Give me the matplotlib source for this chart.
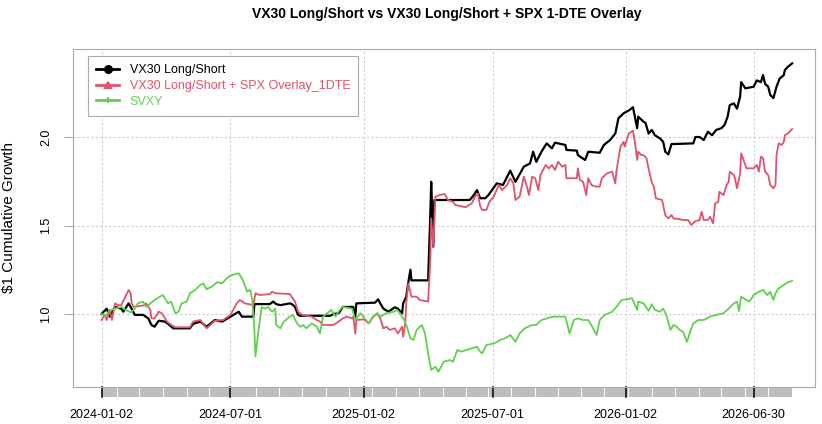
import matplotlib
matplotlib.use("Agg")
import matplotlib.pyplot as plt
from matplotlib.lines import Line2D
from matplotlib.patches import Rectangle
from matplotlib.transforms import blended_transform_factory

plt.rcParams['font.family'] = ['Liberation Sans', 'DejaVu Sans']

# trading-day index (0 = 2024-01-02) and cumulative growth of $1
ls_idx = [0, 5, 8, 13, 19, 21, 26, 29, 32, 40, 45, 48, 51, 55, 61, 64, 69, 85, 88, 95,
          101, 109, 116, 124, 132, 135, 146, 147, 162, 165, 168, 172, 181, 183, 186, 189,
          191, 220, 223, 228, 232, 242, 244, 245, 263, 266, 268, 271, 276, 282, 285, 289,
          290, 293, 295, 297, 298, 314, 316, 317, 319, 320, 354, 358, 361, 364, 369, 372,
          380, 386, 393, 398, 406, 412, 415, 418, 423, 428, 433, 436, 446, 447, 457, 458,
          465, 468, 479, 483, 489, 494, 497, 502, 507, 511, 515, 516, 521, 523, 526, 529,
          532, 537, 540, 542, 545, 548, 569, 571, 575, 579, 583, 587, 591, 596, 599, 602,
          604, 608, 611, 614, 615, 619, 627, 630, 634, 636, 638, 641, 643, 646, 649, 652,
          656, 657, 660, 664]
ls_val = [1.00, 1.03, 0.985, 1.04, 1.03, 1.013, 1.06, 1.03, 0.995, 0.995, 0.975, 0.938,
          0.928, 0.962, 0.957, 0.944, 0.919, 0.919, 0.944, 0.957, 0.928, 0.966, 0.957, 0.985,
          1.013, 0.985, 0.985, 1.056, 1.056, 1.07, 1.056, 1.05, 1.06, 1.056, 1.04, 0.995,
          0.99, 0.99, 1.0, 1.004, 1.04, 1.04, 0.985, 1.06, 1.064, 1.083, 1.06, 1.03, 1.013,
          1.038, 1.03, 1.004, 1.06, 1.098, 1.18, 1.25, 1.19, 1.19, 1.54, 1.747, 1.38, 1.644,
          1.644, 1.672, 1.70, 1.654, 1.654, 1.672, 1.738, 1.729, 1.81, 1.747, 1.832, 1.851,
          1.917, 1.86, 1.917, 1.964, 1.936, 1.968, 1.955, 1.927, 1.923, 1.898, 1.87, 1.917,
          1.911, 1.955, 1.983, 2.02, 2.106, 2.134, 2.15, 2.168, 2.05, 2.115, 2.087, 2.08,
          2.02, 2.04, 2.01, 1.992, 1.973, 1.917, 1.902, 1.96, 1.964, 2.0, 2.0, 1.983, 2.03,
          2.01, 2.04, 2.05, 2.068, 2.115, 2.18, 2.19, 2.16, 2.228, 2.31, 2.275, 2.284, 2.32,
          2.31, 2.35, 2.30, 2.284, 2.237, 2.22, 2.284, 2.33, 2.35, 2.378, 2.397, 2.416]

ov_idx = [0, 3, 5, 8, 10, 13, 16, 19, 23, 26, 28, 29, 31, 42, 43, 47, 48, 51, 55, 58, 59,
          63, 67, 71, 85, 88, 95, 101, 109, 117, 124, 130, 133, 138, 146, 148, 152, 162, 164,
          167, 181, 186, 189, 193, 202, 207, 210, 213, 223, 228, 232, 236, 241, 242, 244, 245,
          252, 257, 260, 265, 268, 271, 274, 277, 282, 285, 289, 290, 292, 293, 295, 298, 303,
          306, 314, 316, 317, 319, 321, 325, 330, 333, 338, 340, 350, 356, 359, 362, 364, 366,
          370, 373, 377, 382, 385, 390, 393, 396, 398, 402, 406, 409, 411, 414, 417, 420, 422,
          427, 430, 433, 436, 439, 443, 446, 447, 457, 458, 460, 463, 466, 468, 471, 475, 479,
          481, 486, 491, 494, 495, 499, 502, 503, 507, 511, 513, 515, 516, 519, 521, 524, 526,
          529, 531, 533, 539, 542, 545, 548, 550, 555, 559, 564, 567, 571, 575, 577, 579, 583,
          585, 588, 590, 593, 594, 598, 601, 603, 604, 608, 609, 611, 614, 615, 619, 620, 627,
          630, 632, 634, 636, 638, 641, 643, 646, 648, 649, 651, 654, 656, 657, 660, 664]
ov_val = [0.966, 0.995, 0.966, 1.023, 0.966, 1.06, 1.05, 1.05, 1.098, 1.136, 1.117, 1.06,
          1.04, 1.05, 1.06, 1.023, 0.975, 0.975, 1.013, 1.004, 0.995, 0.957, 0.938, 0.925,
          0.925, 0.957, 0.966, 0.919, 0.962, 0.966, 0.995, 1.06, 1.079, 1.06, 1.05, 1.117,
          1.107, 1.113, 1.126, 1.117, 1.113, 1.07, 1.013, 0.995, 0.985, 0.966, 0.957, 0.938,
          0.938, 0.957, 0.975, 0.985, 0.975, 0.985, 0.89, 0.966, 0.97, 0.947, 0.975, 1.004,
          0.975, 0.919, 0.928, 0.91, 0.919, 0.89, 0.928, 0.872, 0.947, 1.06, 1.173, 1.098,
          1.098, 1.079, 1.07, 1.286, 1.54, 1.38, 1.663, 1.672, 1.678, 1.644, 1.634, 1.616,
          1.603, 1.625, 1.663, 1.68, 1.61, 1.588, 1.588, 1.634, 1.663, 1.729, 1.70, 1.729,
          1.767, 1.738, 1.644, 1.663, 1.776, 1.72, 1.672, 1.776, 1.767, 1.70, 1.785, 1.842,
          1.823, 1.842, 1.814, 1.86, 1.832, 1.842, 1.767, 1.767, 1.823, 1.757, 1.747, 1.672,
          1.767, 1.729, 1.72, 1.72, 1.767, 1.795, 1.804, 1.738, 1.804, 1.946, 1.973, 1.946,
          2.02, 2.036, 1.964, 1.87, 1.917, 1.898, 1.898, 1.88, 1.82, 1.745, 1.72, 1.654,
          1.644, 1.559, 1.54, 1.559, 1.54, 1.537, 1.531, 1.531, 1.503, 1.525, 1.531, 1.578,
          1.531, 1.531, 1.55, 1.512, 1.625, 1.634, 1.69, 1.672, 1.729, 1.747, 1.804, 1.785,
          1.767, 1.71, 1.795, 1.908, 1.842, 1.823, 1.823, 1.842, 1.804, 1.889, 1.88, 1.804,
          1.785, 1.729, 1.71, 1.729, 1.898, 1.964, 1.955, 1.973, 2.01, 2.02, 2.045]

svxy_idx = [0, 4, 8, 13, 19, 24, 28, 31, 35, 40, 43, 47, 51, 56, 59, 64, 67, 71, 74, 77, 82,
            85, 90, 95, 98, 101, 106, 111, 116, 120, 125, 132, 136, 140, 143, 145, 147, 148,
            151, 154, 157, 160, 164, 167, 168, 172, 175, 181, 184, 188, 191, 194, 197, 202,
            207, 210, 213, 217, 221, 225, 229, 232, 241, 244, 249, 253, 257, 261, 265, 268,
            274, 281, 284, 287, 291, 293, 297, 300, 303, 308, 311, 314, 317, 321, 324, 329,
            335, 338, 342, 346, 351, 356, 361, 364, 366, 370, 378, 383, 388, 393, 398, 402,
            407, 414, 418, 423, 428, 434, 441, 446, 450, 454, 458, 463, 468, 471, 476, 479,
            484, 491, 495, 500, 505, 510, 515, 516, 521, 526, 529, 532, 537, 540, 543, 547,
            550, 553, 556, 559, 563, 566, 569, 574, 579, 585, 591, 598, 603, 608, 611, 613,
            615, 620, 623, 627, 632, 636, 640, 643, 646, 648, 651, 656, 660, 664]
svxy_val = [1.0, 0.99, 1.02, 1.03, 1.04, 1.02, 1.01, 1.023, 1.06, 1.07, 1.04, 1.06, 1.079,
            1.098, 1.107, 1.06, 1.07, 1.004, 1.013, 1.06, 1.07, 1.117, 1.136, 1.164, 1.173,
            1.14, 1.154, 1.18, 1.173, 1.20, 1.22, 1.23, 1.19, 1.126, 1.136, 1.079, 0.91, 0.76,
            0.91, 1.04, 1.03, 1.04, 1.013, 1.03, 0.938, 0.919, 0.955, 0.985, 0.995, 0.947,
            0.928, 0.938, 0.919, 0.947, 0.928, 0.89, 0.985, 1.004, 1.023, 0.985, 1.023, 1.04,
            1.03, 0.966, 1.004, 0.975, 0.947, 0.985, 1.004, 0.985, 1.004, 1.013, 1.023, 1.004,
            0.966, 0.938, 0.863, 0.853, 0.91, 0.938, 0.89, 0.778, 0.684, 0.702, 0.674, 0.73,
            0.74, 0.73, 0.797, 0.787, 0.797, 0.806, 0.815, 0.787, 0.778, 0.825, 0.834, 0.853,
            0.863, 0.881, 0.843, 0.89, 0.919, 0.938, 0.938, 0.966, 0.975, 0.985, 0.985, 0.985,
            0.89, 0.966, 0.975, 0.966, 0.966, 0.938, 0.881, 0.966, 0.995, 1.013, 1.04, 1.079,
            1.083, 1.089, 1.023, 1.07, 1.06, 1.018, 1.055, 1.023, 1.013, 1.03, 0.995, 0.91,
            0.938, 0.928, 0.91, 0.90, 0.843, 0.90, 0.947, 0.966, 0.966, 0.985, 0.995, 1.004,
            1.03, 1.06, 1.07, 1.017, 1.098, 1.079, 1.07, 1.107, 1.126, 1.136, 1.107, 1.126,
            1.079, 1.117, 1.145, 1.164, 1.18, 1.187]

labels = ['VX30 Long/Short', 'VX30 Long/Short + SPX Overlay_1DTE', 'SVXY']
colors = ['#000000', '#DF536B', '#61D04F']
markers = ['o', '^', '+']

major_idx = [0, 124, 252, 376, 504, 627]
major_lab = ['2024-01-02', '2024-07-01', '2025-01-02', '2025-07-01', '2026-01-02', '2026-06-30']
minor_idx = [15, 36, 59, 82, 103, 149, 171, 193, 216, 238, 260, 283, 305, 328, 350, 372,
             394, 417, 439, 461, 483, 506, 529, 551, 574, 596, 619, 641]
last_idx = 664

fig = plt.figure(figsize=(8.22, 4.24), dpi=100)
ax = fig.add_axes([0.0892, 0.0873, 0.9023, 0.7964])

ax.plot(ls_idx, ls_val, color=colors[0], lw=1.6)
ax.plot(ov_idx, ov_val, color=colors[1], lw=1.3)
ax.plot(svxy_idx, svxy_val, color=colors[2], lw=1.3)

ax.set_xlim(-27.1, 686)
ax.set_ylim(0.5876, 2.4955)

for s in ax.spines.values():
    s.set_color('#aaaaaa')
    s.set_linewidth(0.8)

ax.set_yticks([1.0, 1.5, 2.0])
ax.set_yticklabels(['1.0', '1.5', '2.0'], rotation=90, va='center')
ax.tick_params(axis='y', length=6.5, width=0.8, color='#aaaaaa', pad=8.5, labelsize=9)
ax.set_xticks(major_idx)
ax.set_xticklabels(major_lab)
ax.tick_params(axis='x', length=0, pad=16, labelsize=9)
ax.grid(True, color='#cccccc', linestyle=(0, (2, 2)), linewidth=0.8)

# grey month bar under the axis
tr = blended_transform_factory(ax.transData, ax.transAxes)
ax.add_patch(Rectangle((0, -0.0287), last_idx, 0.0287, transform=tr, color='#bebebe',
                       clip_on=False, lw=0))
for m in minor_idx:
    ax.plot([m, m], [-0.0287, 0], transform=tr, color='white', lw=0.8, clip_on=False)
for m in major_idx:
    ax.plot([m, m], [-0.0287, 0], transform=tr, color='black', lw=1.1, clip_on=False)

handles = [Line2D([], [], color=c, lw=2, marker=mk, markersize=5, mew=1.5)
           for c, mk in zip(colors, markers)]
leg = ax.legend(handles, labels, loc='upper left', bbox_to_anchor=(0.0202, 0.980),
                borderaxespad=0, fontsize=9, handlelength=1.8, handletextpad=0.85,
                labelspacing=0.3, borderpad=0.65, fancybox=False, framealpha=1)
leg.get_frame().set_edgecolor('#aaaaaa')
leg.get_frame().set_linewidth(0.8)
for t, c in zip(leg.get_texts(), colors):
    t.set_color(c)

fig.text(0.5434, 0.968, 'VX30 Long/Short vs VX30 Long/Short + SPX 1-DTE Overlay',
         ha='center', va='center', fontsize=10, fontweight='bold')
fig.text(0.0105, 0.488, '$1 Cumulative Growth', rotation=90, ha='center', va='center',
         fontsize=11)

fig.savefig('out.png', dpi=100)
